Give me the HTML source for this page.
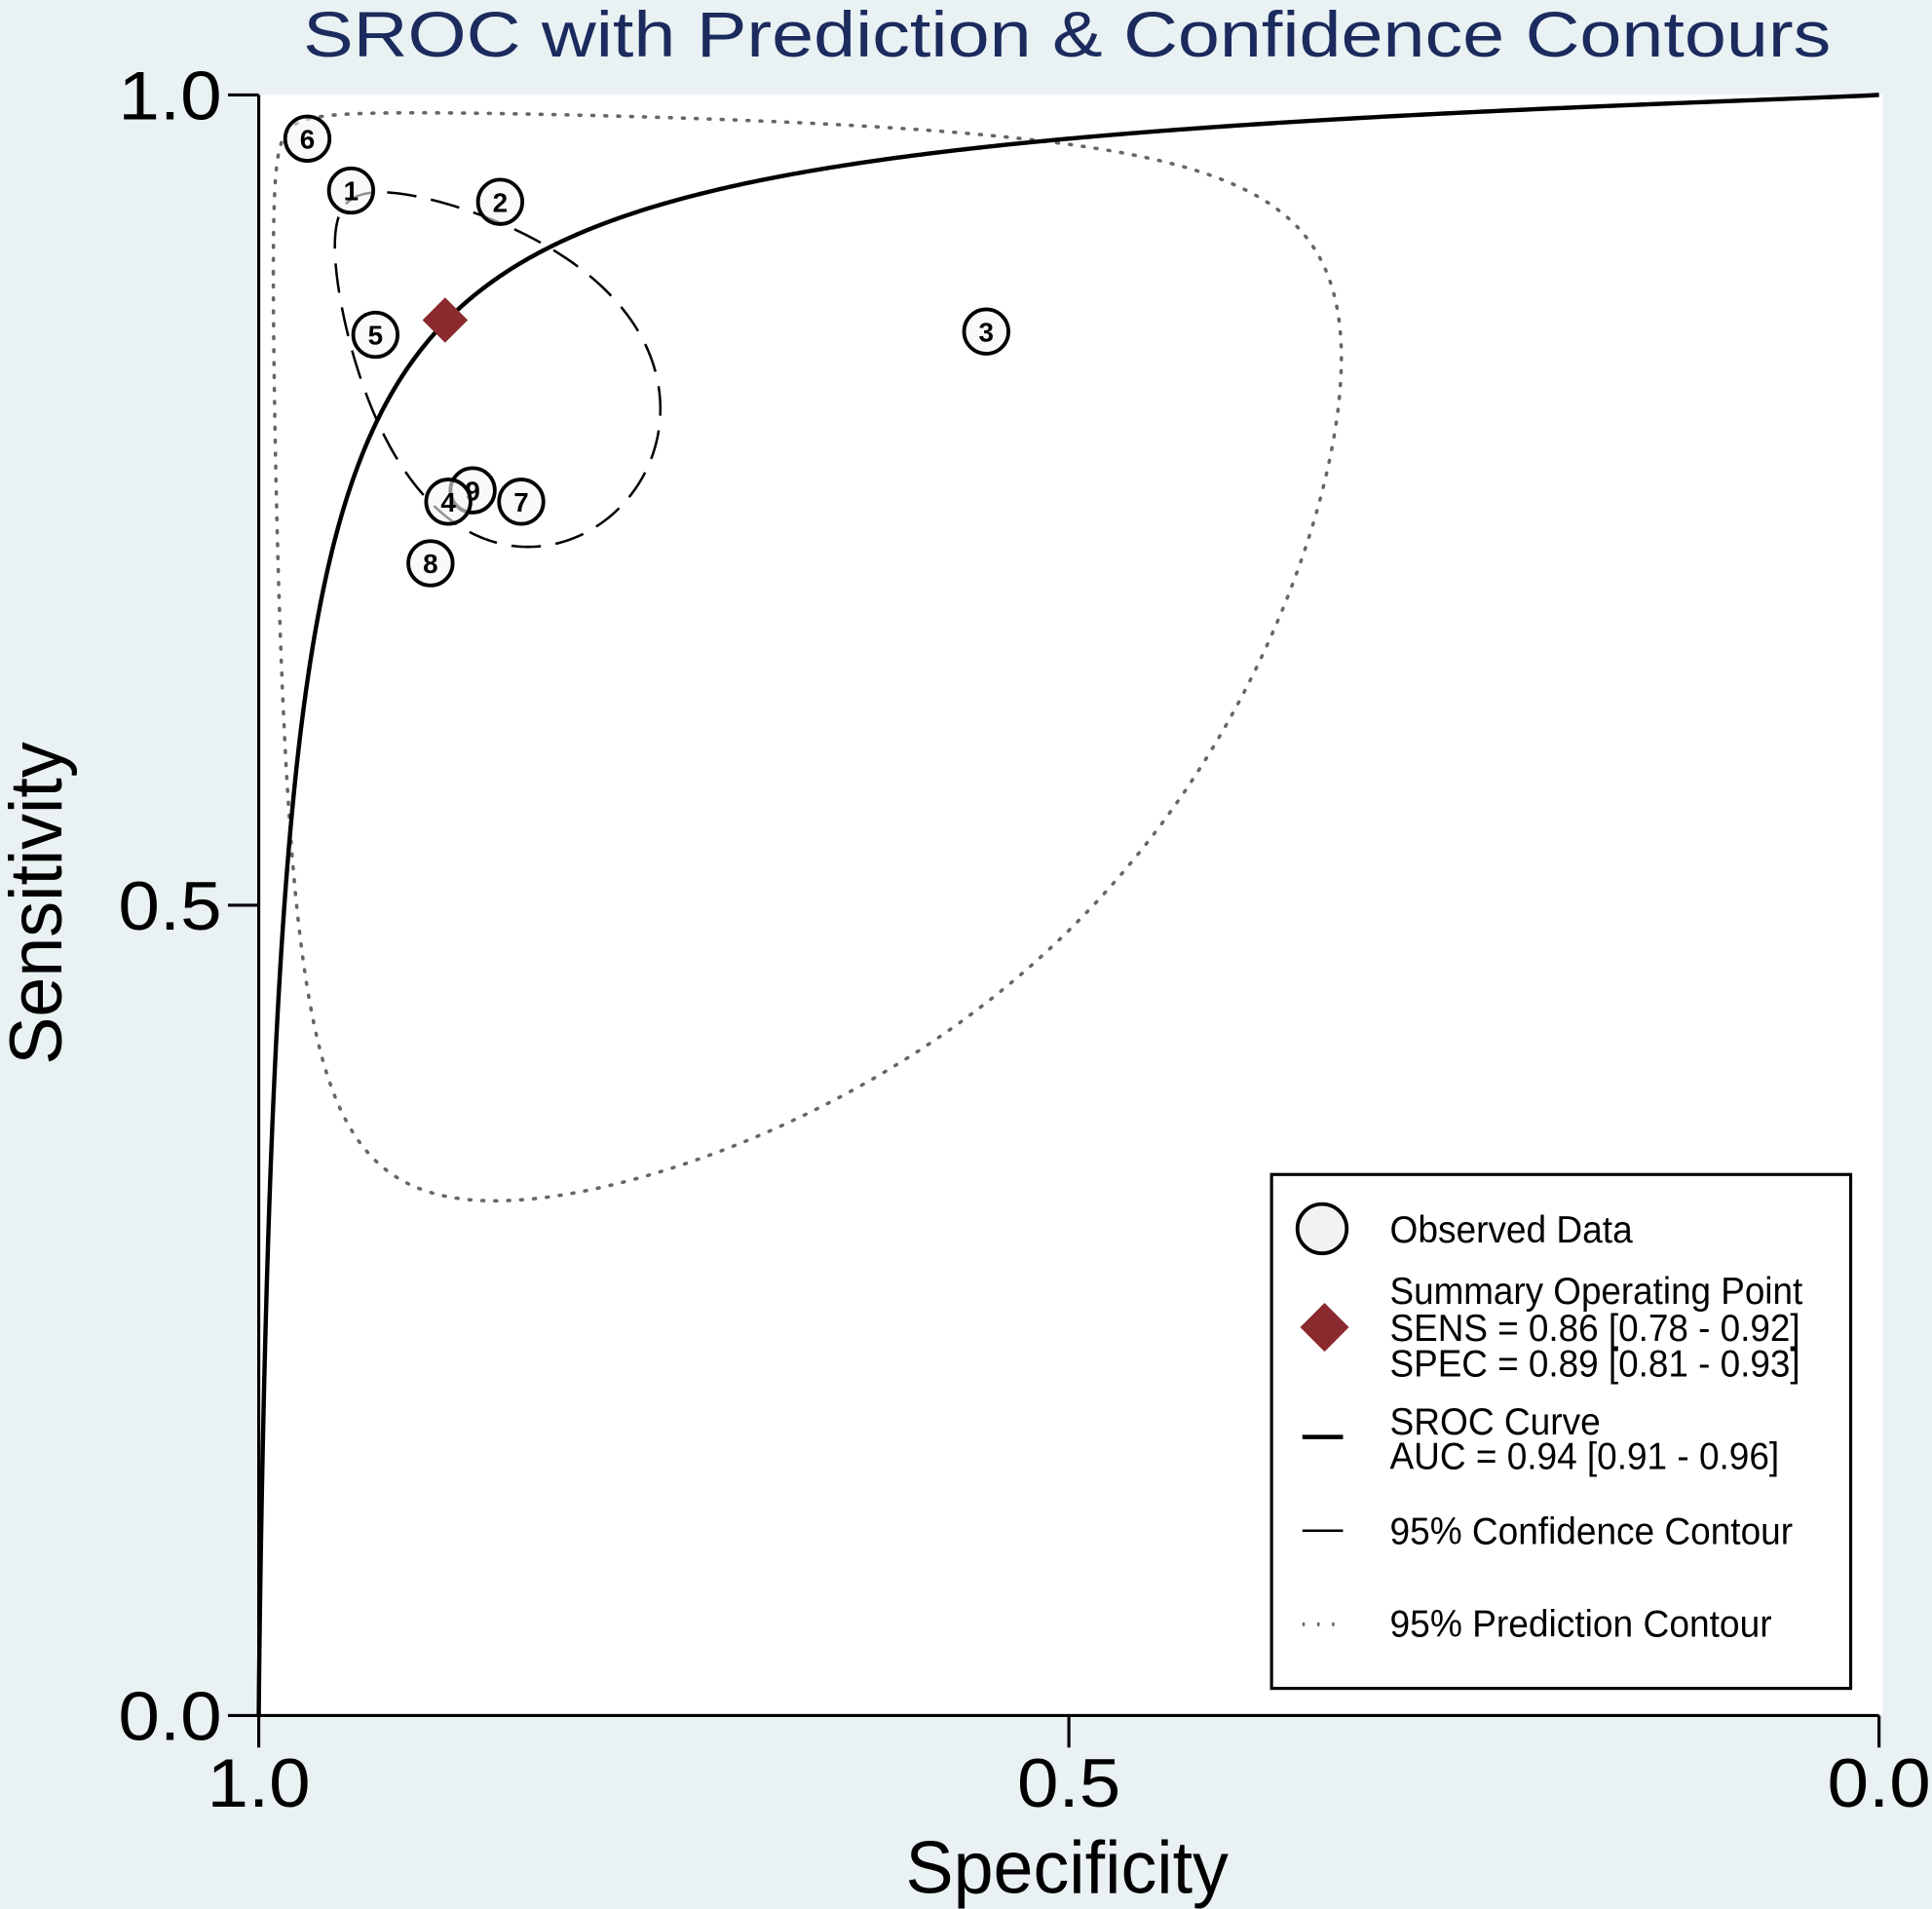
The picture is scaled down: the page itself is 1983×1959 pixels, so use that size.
<!DOCTYPE html>
<html><head><meta charset="utf-8"><style>
html,body{margin:0;padding:0;background:#e9f1f3;}
svg{display:block;}
text{font-family:"Liberation Sans",sans-serif;}
</style></head><body>
<svg id="chart" width="1983" height="1959" viewBox="0 0 1568 1549" xmlns="http://www.w3.org/2000/svg">
<rect x="0" y="0" width="1568" height="1549" fill="#e9f1f3"/>
<rect x="210" y="77" width="1318" height="1315" fill="#ffffff"/>
<text x="866" y="46" text-anchor="middle" font-size="52" fill="#1b2b5e" textLength="1240" lengthAdjust="spacingAndGlyphs">SROC with Prediction &amp; Confidence Contours</text>
<g id="axes"></g>
<g id="marks"></g>
<g id="legend">
<rect x="1032" y="953" width="470" height="417" fill="#fff" stroke="#000" stroke-width="2.5"/>
<circle cx="1073" cy="997" r="20" fill="#f2f2f2" stroke="#000" stroke-width="3"/>
<text x="1128" y="1008" font-size="31" textLength="197" lengthAdjust="spacingAndGlyphs">Observed Data</text>
<rect x="1061" y="1063" width="28" height="28" fill="#8b2a2e" transform="rotate(45 1075 1077)"/>
<text x="1128" y="1058" font-size="31" textLength="335" lengthAdjust="spacingAndGlyphs">Summary Operating Point</text>
<text x="1128" y="1088" font-size="31" textLength="333" lengthAdjust="spacingAndGlyphs">SENS = 0.86 [0.78 - 0.92]</text>
<text x="1128" y="1117" font-size="31" textLength="333" lengthAdjust="spacingAndGlyphs">SPEC = 0.89 [0.81 - 0.93]</text>
<line x1="1057" y1="1166" x2="1090" y2="1166" stroke="#000" stroke-width="3.5"/>
<text x="1128" y="1164" font-size="31" textLength="171" lengthAdjust="spacingAndGlyphs">SROC Curve</text>
<text x="1128" y="1192" font-size="31" textLength="316" lengthAdjust="spacingAndGlyphs">AUC = 0.94 [0.91 - 0.96]</text>
<line x1="1057" y1="1242" x2="1090" y2="1242" stroke="#000" stroke-width="2"/>
<text x="1128" y="1253" font-size="31" textLength="327" lengthAdjust="spacingAndGlyphs">95% Confidence Contour</text>
<line x1="1057" y1="1318" x2="1090" y2="1318" stroke="#666" stroke-width="3" stroke-dasharray="2,10"/>
<text x="1128" y="1328" font-size="31" textLength="310" lengthAdjust="spacingAndGlyphs">95% Prediction Contour</text>
</g>
</svg>
<script>
// Data
const studyIds = [6, 1, 2, 5, 3, 9, 4, 7, 8];
const studySpec = [0.970, 0.943, 0.851, 0.928, 0.551, 0.868, 0.883, 0.838, 0.894];
const studySens = [0.973, 0.941, 0.934, 0.852, 0.854, 0.756, 0.749, 0.749, 0.711];
const summarySpec = [0.885];
const summarySens = [0.861];
// SROC: logit(sens) = a + b*logit(FPR)
const srocParams = [3.585, 0.868];
// Ellipses in logit space: [centerLogitSpec, radiusSpec, centerLogitSens, radiusSens, phase]
const confidenceParams = [2.06, 0.95, 1.85, 0.90, 1.08];
const predictionParams = [2.00, 2.70, 1.865, 2.63, 1.485];
const tickValues = [0.0, 0.5, 1.0];
const tickLabels = ["0.0", "0.5", "1.0"];

const NS = "http://www.w3.org/2000/svg";
const X0 = 210, X1 = 1525, Y0 = 1392, Y1 = 77;
const xS = s => X0 + (1 - s) * (X1 - X0);
const yS = s => Y0 - s * (Y0 - Y1);
const logit = p => Math.log(p / (1 - p));
const expit = v => 1 / (1 + Math.exp(-v));
function mk(tag, attrs, parent) {
  const e = document.createElementNS(NS, tag);
  for (const k in attrs) e.setAttribute(k, attrs[k]);
  parent.appendChild(e);
  return e;
}
const axes = document.getElementById('axes');
const marks = document.getElementById('marks');

let el = mk('line', {x1: X0, y1: Y0, x2: X1, y2: Y0, stroke: '#000', 'stroke-width': 2.5}, axes);


el = mk('line', {x1: X0, y1: Y0, x2: X0, y2: Y1, stroke: '#000', 'stroke-width': 2.5}, axes);


tickValues.forEach((v, i) => {
  let t = mk('line', {x1: xS(v), y1: Y0, x2: xS(v), y2: Y0 + 26, stroke: '#000', 'stroke-width': 2.5}, axes);
  
  
  let l = mk('text', {x: xS(v), y: Y0 + 74, 'text-anchor': 'middle', 'font-size': 56, textLength: 84, lengthAdjust: 'spacingAndGlyphs'}, axes);
  l.textContent = tickLabels[i];
  
  
  t = mk('line', {x1: X0 - 25, y1: yS(v), x2: X0, y2: yS(v), stroke: '#000', 'stroke-width': 2.5}, axes);
  
  
  l = mk('text', {x: X0 - 30, y: yS(v) + 20, 'text-anchor': 'end', 'font-size': 56, textLength: 84, lengthAdjust: 'spacingAndGlyphs'}, axes);
  l.textContent = tickLabels[i];
  
  
});
el = mk('text', {x: 866, y: 1536, 'text-anchor': 'middle', 'font-size': 60, textLength: 262, lengthAdjust: 'spacingAndGlyphs'}, axes);
el.textContent = 'Specificity';


el = mk('text', {x: 0, y: 0, 'text-anchor': 'middle', 'font-size': 60, textLength: 262, lengthAdjust: 'spacingAndGlyphs', transform: 'translate(50 733) rotate(-90)'}, axes);
el.textContent = 'Sensitivity';



function contourPath(p) {
  let d = '';
  for (let i = 0; i <= 360; i++) {
    const t = i / 360 * 2 * Math.PI;
    const u = p[0] + p[1] * Math.cos(t);
    const v = p[2] + p[3] * Math.cos(t - p[4]);
    d += (i ? 'L' : 'M') + xS(expit(u)).toFixed(2) + ' ' + yS(expit(v)).toFixed(2);
  }
  return d + 'Z';
}
el = mk('path', {d: contourPath(predictionParams), fill: 'none', stroke: '#666', 'stroke-width': 2.8, 'stroke-dasharray': '1.5,9', 'stroke-linecap': 'round'}, marks);


el = mk('path', {d: contourPath(confidenceParams), fill: 'none', stroke: '#000', 'stroke-width': 2, 'stroke-dasharray': '24,12'}, marks);



let d = '';
for (let i = 0; i <= 600; i++) {
  const f = Math.pow(i / 600, 3);
  const fpr = Math.min(Math.max(f, 1e-6), 1 - 1e-6);
  const sens = expit(srocParams[0] + srocParams[1] * logit(fpr));
  d += (i ? 'L' : 'M') + xS(1 - fpr).toFixed(2) + ' ' + yS(sens).toFixed(2);
}
el = mk('path', {d: d, fill: 'none', stroke: '#000', 'stroke-width': 3.5}, marks);



studyIds.forEach((id, i) => {
  const cx = xS(studySpec[i]), cy = yS(studySens[i]);
  const c = mk('circle', {cx: cx, cy: cy, r: 18, fill: 'rgba(245,245,245,0.6)', stroke: '#000', 'stroke-width': 3}, marks);
  
  
  const t = mk('text', {x: cx, y: cy + 8, 'text-anchor': 'middle', 'font-size': 22, 'font-weight': 'bold'}, marks);
  t.textContent = id;
  
  
});

summarySpec.forEach((s, i) => {
  const cx = xS(s), cy = yS(summarySens[i]);
  const r = mk('rect', {x: cx - 13, y: cy - 13, width: 26, height: 26, fill: '#8b2a2e', transform: 'rotate(45 ' + cx + ' ' + cy + ')'}, marks);
  
  
});
</script>
</body></html>
